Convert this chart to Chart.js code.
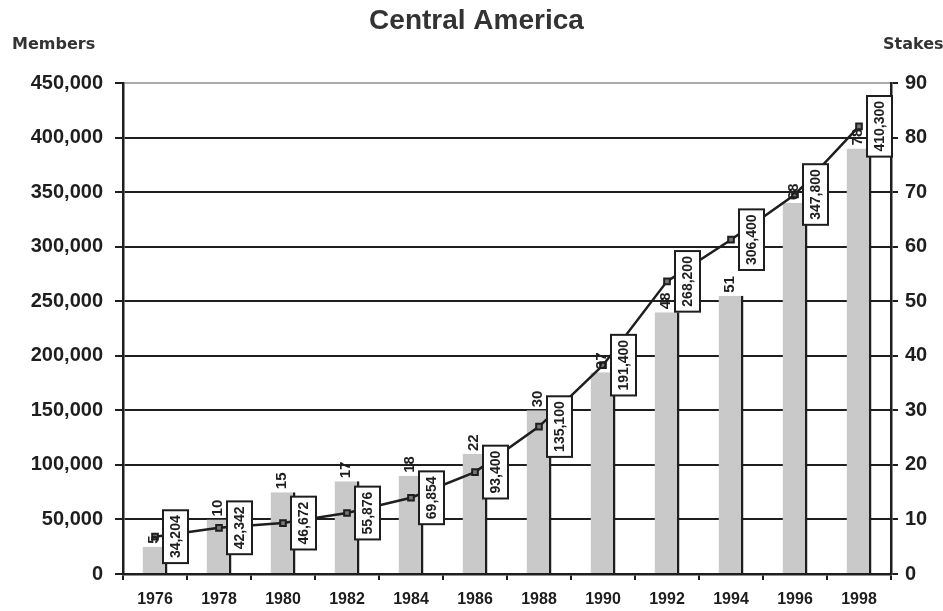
<!DOCTYPE html>
<html>
<head>
<meta charset="utf-8">
<script src="https://cdn.jsdelivr.net/npm/chart.js@4.4.0/dist/chart.umd.min.js"></script>
<style>
html, body { margin: 0; padding: 0; background: #fff; }
</style>
</head>
<body>
<canvas id="mycanvas" width="943" height="611"></canvas>
<script>
var years = ['1976', '1978', '1980', '1982', '1984', '1986', '1988', '1990', '1992', '1994', '1996', '1998'];
var members = [34204, 42342, 46672, 55876, 69854, 93400, 135100, 191400, 268200, 306400, 347800, 410300];
var stakes = [5, 10, 15, 17, 18, 22, 30, 37, 48, 51, 68, 78];
var membersMax = 450000, membersStep = 50000;
var stakesMax = 90, stakesStep = 10;

var ink = '#1e1e1e';
var sans = '"Liberation Sans", Arial, sans-serif';

function fmt(n) {
	return String(n).replace(/\B(?=(\d{3})+(?!\d))/g, ',');
}

// value boxes on the line, numbers above the bars, titles
var labelPlugin = {
	id: 'labels',
	afterDatasetsDraw: function(chart) {
		var ctx = chart.ctx;
		ctx.save();
		ctx.font = 'bold 15px ' + sans;
		ctx.fillStyle = ink;

		var barMeta = chart.getDatasetMeta(1);
		barMeta.data.forEach(function(bar, i) {
			ctx.save();
			ctx.translate(bar.x - 1, bar.y - 3);
			ctx.rotate(-Math.PI / 2);
			ctx.textAlign = 'left';
			ctx.textBaseline = 'middle';
			ctx.fillText(String(stakes[i]), 0, 0);
			ctx.restore();
		});

		ctx.font = 'bold 14px ' + sans;
		var lineMeta = chart.getDatasetMeta(0);
		lineMeta.data.forEach(function(pt, i) {
			var txt = fmt(members[i]);
			var w = ctx.measureText(txt).width;
			var bw = 25, bh = w + 10;
			var bx = pt.x + 8, by = pt.y - bh / 2;
			ctx.fillStyle = '#fff';
			ctx.fillRect(bx, by, bw, bh);
			ctx.lineWidth = 2;
			ctx.strokeStyle = ink;
			ctx.strokeRect(bx, by, bw, bh);
			ctx.save();
			ctx.translate(bx + bw / 2 + 1, pt.y);
			ctx.rotate(-Math.PI / 2);
			ctx.textAlign = 'center';
			ctx.textBaseline = 'middle';
			ctx.fillStyle = ink;
			ctx.fillText(txt, 0, 0);
			ctx.restore();
		});
		ctx.restore();
	},
	afterDraw: function(chart) {
		var ctx = chart.ctx;
		ctx.save();
		ctx.fillStyle = '#333';
		ctx.textBaseline = 'alphabetic';
		ctx.font = 'bold 28px ' + sans;
		ctx.textAlign = 'center';
		ctx.fillText('Central America', chart.width / 2 + 5, 29);
		ctx.font = 'bold 16px "DejaVu Sans", sans-serif';
		ctx.textAlign = 'left';
		ctx.fillText('Members', 12, 49);
		ctx.fillText('Stakes', 883, 49);
		ctx.restore();
	}
};

var chartdata = {
	labels: years,
	datasets: [
		{
			type: 'line',
			label: 'Members',
			data: members,
			yAxisID: 'y',
			borderColor: ink,
			borderWidth: 2.5,
			pointStyle: 'rect',
			pointRadius: 4,
			pointBorderWidth: 2,
			pointBorderColor: ink,
			pointBackgroundColor: '#777',
			tension: 0
		},
		{
			type: 'bar',
			label: 'Stakes',
			data: stakes,
			yAxisID: 'y1',
			backgroundColor: '#c9c9c9',
			borderColor: ink,
			borderWidth: { top: 0, right: 2.5, bottom: 0, left: 0 },
			borderSkipped: false,
			barPercentage: 0.39,
			categoryPercentage: 1
		}
	]
};

var ctx = document.getElementById('mycanvas');

var combo = new Chart(ctx, {
	data: chartdata,
	plugins: [labelPlugin],
	options: {
		responsive: false,
		animation: false,
		devicePixelRatio: 1,
		layout: { padding: { top: 83, left: 0, right: 0, bottom: 0 } },
		plugins: {
			legend: { display: false },
			tooltip: { enabled: false },
			title: { display: false }
		},
		scales: {
			x: {
				type: 'category',
				offset: true,
				grid: {
					offset: true,
					drawOnChartArea: false,
					drawTicks: true,
					tickLength: 6,
					tickColor: ink,
					lineWidth: 2
				},
				border: { display: true, color: ink, width: 2.5 },
				ticks: {
					color: ink,
					font: { family: sans, size: 16, weight: 'bold' },
					padding: 10,
					maxRotation: 0,
					autoSkip: false
				},
				afterFit: function(s) { s.height = 37; }
			},
			y: {
				position: 'left',
				min: 0,
				max: membersMax,
				ticks: {
					stepSize: membersStep,
					color: ink,
					font: { family: sans, size: 20, weight: 'bold' },
					padding: 12,
					callback: function(v) { return fmt(v); }
				},
				grid: {
					color: function(c) { return c.tick && c.tick.value === membersMax ? '#aaa' : ink; },
					tickColor: ink,
					lineWidth: 2,
					tickLength: 8
				},
				border: { display: true, color: ink, width: 2.5 },
				afterFit: function(s) { s.width = 123; }
			},
			y1: {
				position: 'right',
				min: 0,
				max: stakesMax,
				ticks: {
					stepSize: stakesStep,
					color: ink,
					font: { family: sans, size: 20, weight: 'bold' },
					padding: 7
				},
				grid: {
					drawOnChartArea: false,
					tickColor: ink,
					lineWidth: 2,
					tickLength: 7
				},
				border: { display: true, color: ink, width: 2.5 },
				afterFit: function(s) { s.width = 52; }
			}
		}
	}
});
</script>
</body>
</html>
